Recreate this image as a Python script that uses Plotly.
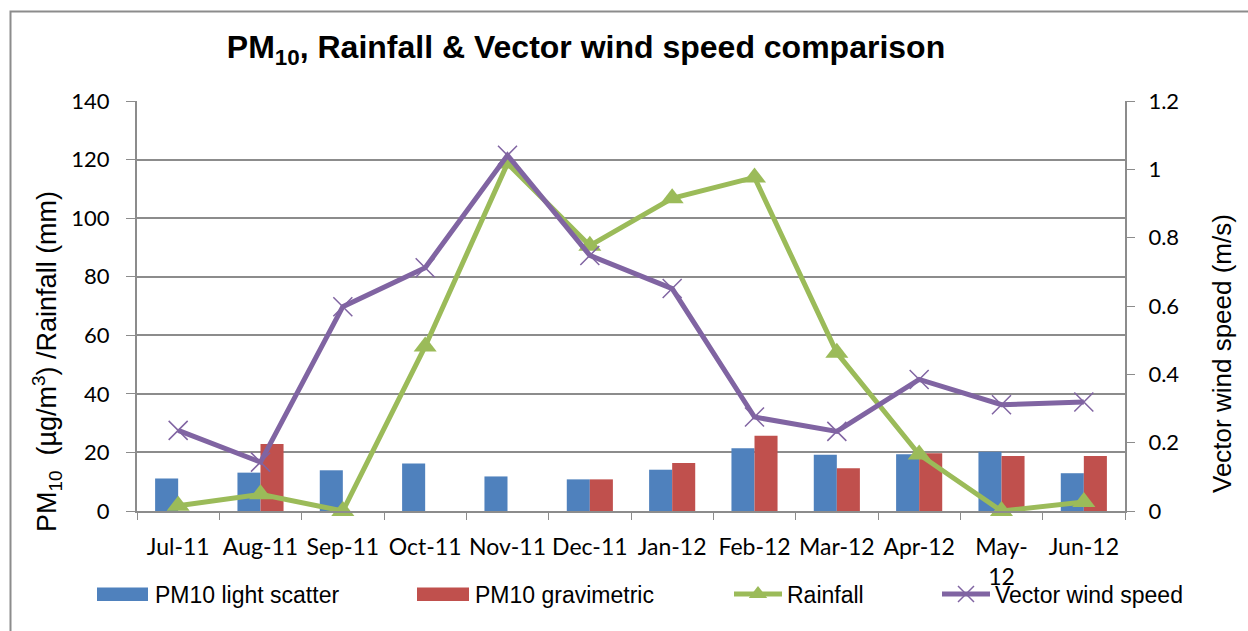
import plotly.graph_objects as go

months = ["Jul-11", "Aug-11", "Sep-11", "Oct-11", "Nov-11", "Dec-11",
          "Jan-12", "Feb-12", "Mar-12", "Apr-12", "May-12", "Jun-12"]
month_labels = [m if m != "May-12" else "May-<br>12" for m in months]

pm10_light_scatter = [11.1, 13.1, 13.9, 16.2, 11.8, 10.8, 14.1, 21.4, 19.2, 19.4, 20.2, 12.9]
pm10_gravimetric = [None, 22.9, None, None, None, 10.8, 16.4, 25.7, 14.6, 19.7, 18.8, 18.8]
rainfall_mm = [1.8, 5.7, 0.0, 56.2, 118.7, 90.6, 106.8, 113.9, 54.0, 19.3, 0.0, 3.1]
wind_speed_ms = [0.236, 0.143, 0.598, 0.712, 1.041, 0.748, 0.651, 0.275, 0.233, 0.385, 0.311, 0.319]

BLUE = "#4F81BD"
RED = "#C0504D"
GREEN = "#9BBB59"
PURPLE = "#8064A2"
GRID = "#8C8C8C"

# plot area in pixels (from the reference)
L, R, T, B = 137, 1125, 101, 511
W, H = 1248, 631


def px_x(x):
    return (x - L) / (R - L)


def px_y(y):
    return (B - y) / (B - T)


fig = go.Figure()

fig.add_trace(go.Bar(
    x=months, y=pm10_light_scatter, name="PM10 light scatter",
    marker=dict(color=BLUE, line=dict(width=0)), legend="legend2",
))
fig.add_trace(go.Bar(
    x=months, y=pm10_gravimetric, name="PM10 gravimetric",
    marker=dict(color=RED, line=dict(width=0)), legend="legend3",
))
fig.add_trace(go.Scatter(
    x=months, y=rainfall_mm, name="Rainfall", mode="lines+markers",
    line=dict(color=GREEN, width=5), cliponaxis=False,
    marker=dict(symbol="triangle-up", size=20, color=GREEN),
    legend="legend4",
))
fig.add_trace(go.Scatter(
    x=months, y=wind_speed_ms, name="Vector wind speed", mode="lines+markers",
    line=dict(color=PURPLE, width=5), cliponaxis=False,
    marker=dict(symbol="x-thin", size=19, line=dict(color=PURPLE, width=1.5)),
    yaxis="y2", legend="legend5",
))

legend_font = dict(family="Liberation Sans, Arial", size=23, color="black")
leg_common = dict(orientation="h", yanchor="middle", y=px_y(594), xanchor="left",
                  font=legend_font, bgcolor="rgba(0,0,0,0)", itemwidth=48,
                  itemclick=False)

tick_font = dict(family="Lato, Calibri", size=22, color="black")

# wide legend swatches for the bar series (Excel style)
swatches = [(97, 148, BLUE), (417, 469, RED)]

shapes = [
    dict(type="rect", xref="paper", yref="paper",
         x0=px_x(10.5), x1=px_x(1262), y0=px_y(645), y1=px_y(11.5),
         line=dict(color="#8C8C8C", width=2), fillcolor="rgba(0,0,0,0)",
         layer="below"),
]
for x0, x1, c in swatches:
    shapes.append(dict(type="rect", xref="paper", yref="paper",
                       x0=px_x(x0), x1=px_x(x1), y0=px_y(601), y1=px_y(587.5),
                       line=dict(width=0), fillcolor=c, layer="above"))

fig.update_layout(
    width=W, height=H,
    margin=dict(l=L, r=W - R, t=T, b=H - B),
    paper_bgcolor="white", plot_bgcolor="white",
    barmode="group", bargap=0.44, bargroupgap=0,
    showlegend=True,
    title=dict(
        text="<b>PM<sub>10</sub>, Rainfall &amp; Vector wind speed comparison</b>",
        font=dict(family="Liberation Sans, Arial", size=32, color="black"),
        x=586 / W, xanchor="center", xref="container",
        y=1 - 47 / H, yanchor="middle", yref="container",
    ),
    xaxis=dict(
        type="category", tickvals=months, ticktext=month_labels, tickangle=0,
        range=[-0.5, len(months) - 0.5],
        tickson="boundaries", ticks="outside", ticklen=7, tickcolor=GRID,
        showline=True, linecolor=GRID, linewidth=2, showgrid=False,
        tickfont=dict(tick_font, size=23), ticklabelstandoff=14,
    ),
    yaxis=dict(
        range=[0, 140], dtick=20, ticks="outside", ticklen=9, tickcolor=GRID,
        showline=True, linecolor=GRID, linewidth=2,
        showgrid=True, gridcolor=GRID, gridwidth=1.5, zeroline=False,
        tickfont=tick_font, ticklabelstandoff=12,
    ),
    yaxis2=dict(
        range=[0, 1.2], dtick=0.2, overlaying="y", side="right",
        ticks="outside", ticklen=8, tickcolor=GRID,
        showline=True, linecolor=GRID, linewidth=2,
        showgrid=False, zeroline=False,
        tickfont=tick_font, ticklabelstandoff=9,
    ),
    legend2=dict(leg_common, x=px_x(97)),
    legend3=dict(leg_common, x=px_x(417)),
    legend4=dict(leg_common, x=px_x(729)),
    legend5=dict(leg_common, x=px_x(937)),
    annotations=[
        dict(text="PM<sub>10</sub>  (µg/m<sup>3</sup>) /Rainfall (mm)",
             textangle=-90, xref="paper", yref="paper",
             x=px_x(47), y=px_y(362), xanchor="center", yanchor="middle",
             showarrow=False,
             font=dict(family="Liberation Sans, Arial", size=27, color="black")),
        dict(text="Vector wind speed (m/s)",
             textangle=-90, xref="paper", yref="paper",
             x=px_x(1222), y=px_y(354), xanchor="center", yanchor="middle",
             showarrow=False,
             font=dict(family="Liberation Sans, Arial", size=26, color="black")),
    ],
    shapes=shapes,
)

# drop the default page margin so the figure sits at the top-left corner
fig.write_html("out.html", config={"displayModeBar": False},
               post_script="document.body.style.margin='0';")
